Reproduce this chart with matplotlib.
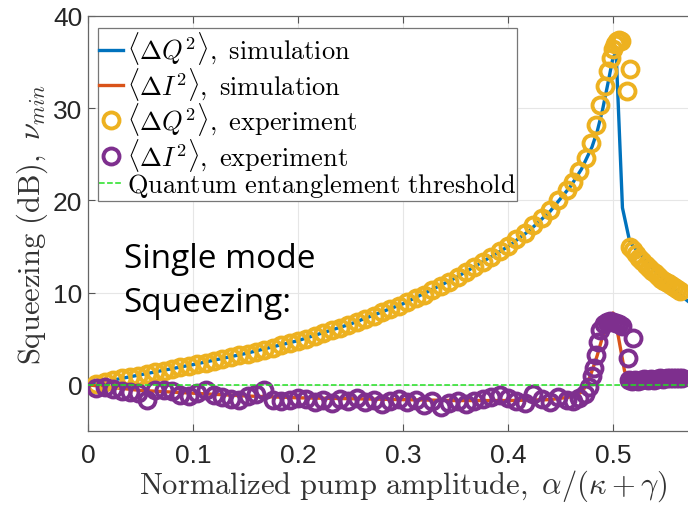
import matplotlib
matplotlib.use('Agg')
import matplotlib.pyplot as plt

# ── Data ──────────────────────────────────────────────────────────────────────
# simulation curves
sim_q_x = [0.0, 0.05, 0.1, 0.15, 0.2, 0.25, 0.3, 0.35, 0.4, 0.42, 0.44, 0.46,
           0.47, 0.48, 0.485, 0.49, 0.495, 0.5, 0.503, 0.509, 0.516, 0.53,
           0.55, 0.57, 0.6]
sim_q_y = [0.0, 1.1, 2.2, 3.4, 4.8, 6.6, 8.8, 11.6, 15.0, 16.7, 18.8, 21.6,
           23.4, 25.8, 27.5, 29.8, 32.6, 35.5, 36.0, 19.2, 15.5, 13.6,
           11.2, 9.2, 6.5]

sim_i_x = [0.0, 0.05, 0.1, 0.15, 0.2, 0.25, 0.3, 0.35, 0.4, 0.44, 0.46, 0.47,
           0.475, 0.48, 0.485, 0.49, 0.495, 0.5, 0.505, 0.511, 0.516, 0.53,
           0.55, 0.57, 0.6]
sim_i_y = [0.0, -0.6, -0.9, -1.2, -1.4, -1.5, -1.6, -1.7, -1.7, -1.6, -1.3,
           -0.8, 0.0, 1.5, 3.2, 5.2, 6.8, 7.8, 5.3, 1.5, 0.7, 0.7, 0.8, 1.3,
           2.2]

# experiment, <dQ^2>
exp_q_x = [0.008, 0.016, 0.024, 0.032, 0.040, 0.048, 0.056, 0.064, 0.072,
           0.080, 0.088, 0.096, 0.104, 0.112, 0.120, 0.128, 0.136, 0.144,
           0.152, 0.160, 0.168, 0.176, 0.184, 0.192, 0.200, 0.208, 0.216,
           0.224, 0.232, 0.240, 0.248, 0.256, 0.264, 0.272, 0.280, 0.288,
           0.296, 0.304, 0.312, 0.320, 0.328, 0.336, 0.344, 0.352, 0.360,
           0.368, 0.376, 0.384, 0.392, 0.400, 0.408, 0.416, 0.424, 0.432,
           0.440, 0.448, 0.456, 0.462, 0.468, 0.474, 0.479, 0.484, 0.488,
           0.492, 0.495, 0.498, 0.500, 0.502, 0.504, 0.506, 0.508, 0.513,
           0.516, 0.516, 0.519, 0.522, 0.525, 0.528, 0.531, 0.534, 0.537,
           0.540, 0.543, 0.546, 0.549, 0.552, 0.555, 0.558, 0.561, 0.564]
exp_q_y = [0.1, 0.3, 0.5, 0.7, 0.9, 1.0, 1.2, 1.4, 1.5, 1.7, 1.9, 2.1, 2.3,
           2.4, 2.6, 2.8, 3.0, 3.2, 3.4, 3.6, 3.8, 4.0, 4.3, 4.5, 4.8, 5.0,
           5.3, 5.6, 5.9, 6.2, 6.5, 6.8, 7.1, 7.5, 7.9, 8.2, 8.6, 9.0, 9.4,
           9.8, 10.3, 10.7, 11.2, 11.7, 12.2, 12.8, 13.3, 13.9, 14.5, 15.1,
           15.8, 16.5, 17.3, 18.1, 19.0, 20.0, 21.1, 22.0, 23.2, 24.6, 26.2,
           28.2, 30.3, 32.4, 34.0, 35.4, 36.4, 37.0, 37.3, 37.4, 37.3, 31.9,
           34.3, 15.0, 14.6, 14.2, 13.8, 13.4, 13.0, 12.7, 12.4, 12.1, 11.8,
           11.5, 11.3, 11.0, 10.8, 10.6, 10.4, 10.2]

# experiment, <dI^2>
exp_i_x = [0.008, 0.016, 0.024, 0.032, 0.040, 0.048, 0.056, 0.064, 0.072,
           0.080, 0.088, 0.096, 0.104, 0.112, 0.120, 0.128, 0.136, 0.144,
           0.152, 0.160, 0.168, 0.176, 0.184, 0.192, 0.200, 0.208, 0.216,
           0.224, 0.232, 0.240, 0.248, 0.256, 0.264, 0.272, 0.280, 0.288,
           0.296, 0.304, 0.312, 0.320, 0.328, 0.336, 0.344, 0.352, 0.360,
           0.368, 0.376, 0.384, 0.392, 0.400, 0.408, 0.416, 0.424, 0.432,
           0.440, 0.448, 0.456, 0.462, 0.468, 0.473, 0.477, 0.480, 0.482,
           0.484, 0.486, 0.488, 0.491, 0.494, 0.497, 0.500, 0.503, 0.506,
           0.509, 0.514, 0.519, 0.515, 0.518, 0.521, 0.524, 0.527, 0.530,
           0.533, 0.536, 0.539, 0.542, 0.545, 0.548, 0.551, 0.554, 0.557,
           0.560, 0.563, 0.566]
exp_i_y = [-0.3, -0.2, -0.4, -0.7, -0.8, -0.9, -1.6, -0.6, -0.5, -0.7, -1.1,
           -1.2, -0.9, -0.5, -1.1, -1.3, -1.5, -1.6, -1.2, -1.0, -0.6, -1.6,
           -1.7, -1.6, -1.4, -1.5, -1.9, -1.6, -2.0, -1.5, -1.8, -1.4, -1.9,
           -1.6, -2.1, -1.7, -1.5, -1.9, -1.6, -2.2, -1.8, -2.4, -2.0, -1.7,
           -2.1, -1.8, -1.5, -1.3, -1.1, -1.4, -1.8, -2.0, -1.0, -1.5, -1.9,
           -1.3, -1.6, -1.8, -1.4, -1.0, -0.2, 1.0, 1.8, 3.2, 4.7, 6.0, 6.6,
           6.8, 6.9, 6.8, 6.7, 6.6, 6.4, 2.9, 5.1, 0.5, 0.4, 0.5, 0.4, 0.5,
           0.6, 0.5, 0.6, 0.5, 0.6, 0.7, 0.6, 0.7, 0.8, 0.7, 0.8, 0.8, 0.7]

threshold_x = [0.0, 0.6]
threshold_y = [0.0, 0.0]

# ── Style ─────────────────────────────────────────────────────────────────────
BLUE = '#0072BD'
ORANGE = '#D95319'
YELLOW = '#EDB120'
PURPLE = '#7E2F8E'
GREEN = '#22e022'

plt.rcParams['mathtext.fontset'] = 'cm'
plt.rcParams['font.family'] = 'Liberation Sans'

fig = plt.figure(figsize=(6.88, 5.10), dpi=100)
ax = fig.add_axes([88 / 688, 78 / 510, 630 / 688, 415 / 510])

ax.plot(sim_q_x, sim_q_y, color=BLUE, lw=2.4, zorder=2,
        label=r'$\langle\Delta Q^2\rangle,\ \mathrm{simulation}$')
ax.plot(sim_i_x, sim_i_y, color=ORANGE, lw=2.4, zorder=2,
        label=r'$\langle\Delta I^2\rangle,\ \mathrm{simulation}$')
ax.plot(exp_q_x, exp_q_y, 'o', mfc='none', mec=YELLOW, ms=11.5, mew=2.8,
        zorder=3, label=r'$\langle\Delta Q^2\rangle,\ \mathrm{experiment}$')
ax.plot(exp_i_x, exp_i_y, 'o', mfc='none', mec=PURPLE, ms=11.5, mew=2.8,
        zorder=3, label=r'$\langle\Delta I^2\rangle,\ \mathrm{experiment}$')
ax.plot(threshold_x, threshold_y, '--', color=GREEN, lw=1.1, zorder=4,
        label=r'$\mathrm{Quantum\ entanglement\ threshold}$')

ax.set_xlim(0, 0.6)
ax.set_ylim(-5, 40)
ax.set_xticks([0, 0.1, 0.2, 0.3, 0.4, 0.5])
ax.set_xticklabels(['0', '0.1', '0.2', '0.3', '0.4', '0.5'])
ax.set_yticks([0, 10, 20, 30, 40])
ax.tick_params(labelsize=19, direction='in', length=5, color='#555555',
               top=True, right=True, labelcolor='#262626')
ax.tick_params(axis='x', pad=9)
ax.tick_params(axis='y', pad=4)
ax.grid(True, color='#e6e6e6', lw=0.8)
ax.set_axisbelow(True)
for s in ax.spines.values():
    s.set_color('#666666')
    s.set_linewidth(0.9)

ax.set_xlabel(r'$\mathrm{Normalized\ pump\ amplitude,}\ \alpha/(\kappa+\gamma)$',
              fontsize=22, color='#333333', labelpad=0)
ax.set_ylabel(r'$\mathrm{Squeezing\ (dB),}\ \nu_{min}$',
              fontsize=22, color='#333333', labelpad=2)

leg = ax.legend(loc='upper left', bbox_to_anchor=(0.016, 0.97), fontsize=19,
                handlelength=0.9, handletextpad=0.15, borderpad=0.05,
                labelspacing=-0.05, borderaxespad=0, fancybox=False,
                framealpha=1)
leg.get_frame().set_edgecolor('#777777')
leg.get_frame().set_linewidth(0.9)

ax.text(0.034, 8.0, 'Single mode\nSqueezing:', fontsize=24,
        family='Open Sans', color='black', linespacing=1.45, va='baseline')

fig.savefig('out.png', dpi=100)
